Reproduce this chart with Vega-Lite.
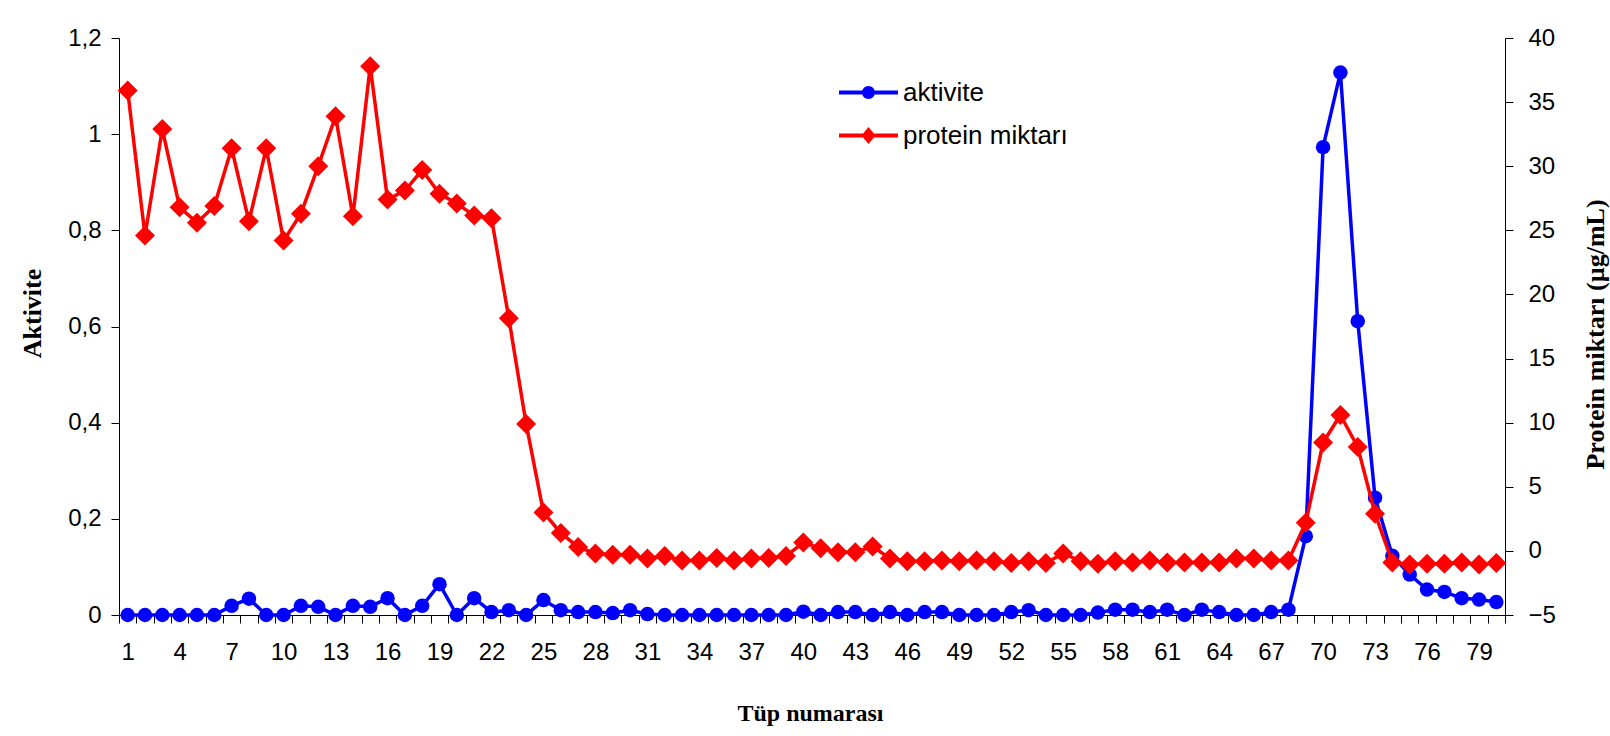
{
  "$schema": "https://vega.github.io/schema/vega-lite/v6.json",
  "autosize": {"type": "none"},
  "padding": {"left": 119, "top": 38, "right": 105, "bottom": 121},
  "width": 1386,
  "height": 577,
  "background": "white",
  "config": {
    "view": {"stroke": null},
    "font": "Liberation Sans",
    "axis": {
      "grid": false,
      "domainColor": "#000000",
      "tickColor": "#000000",
      "labelColor": "#000000",
      "titleColor": "#000000",
      "labelFont": "Liberation Sans",
      "labelFontSize": 24,
      "tickSize": 8,
      "titleFont": "Liberation Serif",
      "titleFontWeight": "bold",
      "titleFontSize": 26
    }
  },
  "data": {
    "values": [
      {"tup": 1, "act": 0, "prot": 35.9},
      {"tup": 2, "act": 0, "prot": 24.6},
      {"tup": 3, "act": 0, "prot": 32.9},
      {"tup": 4, "act": 0, "prot": 26.8},
      {"tup": 5, "act": 0, "prot": 25.6},
      {"tup": 6, "act": 0, "prot": 26.9},
      {"tup": 7, "act": 0.019, "prot": 31.4},
      {"tup": 8, "act": 0.034, "prot": 25.7},
      {"tup": 9, "act": 0, "prot": 31.4},
      {"tup": 10, "act": 0, "prot": 24.2},
      {"tup": 11, "act": 0.019, "prot": 26.3},
      {"tup": 12, "act": 0.017, "prot": 30.0},
      {"tup": 13, "act": 0, "prot": 33.9},
      {"tup": 14, "act": 0.019, "prot": 26.1},
      {"tup": 15, "act": 0.017, "prot": 37.8},
      {"tup": 16, "act": 0.035, "prot": 27.4},
      {"tup": 17, "act": 0, "prot": 28.1},
      {"tup": 18, "act": 0.019, "prot": 29.7},
      {"tup": 19, "act": 0.064, "prot": 27.85},
      {"tup": 20, "act": 0, "prot": 27.1},
      {"tup": 21, "act": 0.035, "prot": 26.15},
      {"tup": 22, "act": 0.006, "prot": 25.95},
      {"tup": 23, "act": 0.01, "prot": 18.15},
      {"tup": 24, "act": 0, "prot": 9.9},
      {"tup": 25, "act": 0.031, "prot": 3.0},
      {"tup": 26, "act": 0.01, "prot": 1.4},
      {"tup": 27, "act": 0.006, "prot": 0.3},
      {"tup": 28, "act": 0.006, "prot": -0.2},
      {"tup": 29, "act": 0.004, "prot": -0.3},
      {"tup": 30, "act": 0.01, "prot": -0.3},
      {"tup": 31, "act": 0.002, "prot": -0.6},
      {"tup": 32, "act": 0, "prot": -0.4},
      {"tup": 33, "act": 0, "prot": -0.75},
      {"tup": 34, "act": 0, "prot": -0.75},
      {"tup": 35, "act": 0, "prot": -0.55},
      {"tup": 36, "act": 0, "prot": -0.75},
      {"tup": 37, "act": 0, "prot": -0.6},
      {"tup": 38, "act": 0, "prot": -0.55},
      {"tup": 39, "act": 0, "prot": -0.4},
      {"tup": 40, "act": 0.007, "prot": 0.65},
      {"tup": 41, "act": 0, "prot": 0.2},
      {"tup": 42, "act": 0.006, "prot": -0.1},
      {"tup": 43, "act": 0.006, "prot": -0.1},
      {"tup": 44, "act": 0, "prot": 0.35},
      {"tup": 45, "act": 0.006, "prot": -0.6},
      {"tup": 46, "act": 0, "prot": -0.8},
      {"tup": 47, "act": 0.006, "prot": -0.8},
      {"tup": 48, "act": 0.006, "prot": -0.75},
      {"tup": 49, "act": 0, "prot": -0.8},
      {"tup": 50, "act": 0, "prot": -0.75},
      {"tup": 51, "act": 0, "prot": -0.8},
      {"tup": 52, "act": 0.006, "prot": -0.95},
      {"tup": 53, "act": 0.01, "prot": -0.8},
      {"tup": 54, "act": 0, "prot": -0.95},
      {"tup": 55, "act": 0, "prot": -0.2},
      {"tup": 56, "act": 0, "prot": -0.8},
      {"tup": 57, "act": 0.005, "prot": -1.0},
      {"tup": 58, "act": 0.011, "prot": -0.8},
      {"tup": 59, "act": 0.011, "prot": -0.9},
      {"tup": 60, "act": 0.006, "prot": -0.75},
      {"tup": 61, "act": 0.011, "prot": -0.9},
      {"tup": 62, "act": 0, "prot": -0.9},
      {"tup": 63, "act": 0.011, "prot": -0.9},
      {"tup": 64, "act": 0.006, "prot": -0.9},
      {"tup": 65, "act": 0, "prot": -0.6},
      {"tup": 66, "act": 0, "prot": -0.6},
      {"tup": 67, "act": 0.006, "prot": -0.75},
      {"tup": 68, "act": 0.011, "prot": -0.75},
      {"tup": 69, "act": 0.164, "prot": 2.2},
      {"tup": 70, "act": 0.973, "prot": 8.45},
      {"tup": 71, "act": 1.128, "prot": 10.6},
      {"tup": 72, "act": 0.611, "prot": 8.1},
      {"tup": 73, "act": 0.244, "prot": 2.9},
      {"tup": 74, "act": 0.123, "prot": -0.9},
      {"tup": 75, "act": 0.084, "prot": -1.07},
      {"tup": 76, "act": 0.053, "prot": -1.0},
      {"tup": 77, "act": 0.048, "prot": -1.0},
      {"tup": 78, "act": 0.035, "prot": -0.9},
      {"tup": 79, "act": 0.032, "prot": -1.07},
      {"tup": 80, "act": 0.027, "prot": -0.95}
    ]
  },
  "encoding": {
    "x": {
      "field": "tup",
      "type": "quantitative",
      "scale": {"domain": [0.5, 80.5], "nice": false, "zero": false},
      "axis": {
        "values": [0.5, 1.5, 2.5, 3.5, 4.5, 5.5, 6.5, 7.5, 8.5, 9.5, 10.5, 11.5, 12.5, 13.5, 14.5, 15.5, 16.5, 17.5, 18.5, 19.5, 20.5, 21.5, 22.5, 23.5, 24.5, 25.5, 26.5, 27.5, 28.5, 29.5, 30.5, 31.5, 32.5, 33.5, 34.5, 35.5, 36.5, 37.5, 38.5, 39.5, 40.5, 41.5, 42.5, 43.5, 44.5, 45.5, 46.5, 47.5, 48.5, 49.5, 50.5, 51.5, 52.5, 53.5, 54.5, 55.5, 56.5, 57.5, 58.5, 59.5, 60.5, 61.5, 62.5, 63.5, 64.5, 65.5, 66.5, 67.5, 68.5, 69.5, 70.5, 71.5, 72.5, 73.5, 74.5, 75.5, 76.5, 77.5, 78.5, 79.5, 80.5],
        "labelExpr": "(datum.value - 0.5) % 3 == 0 ? toString(datum.value + 0.5) : ''",
        "labelOffset": 8.66,
        "labelPadding": 17,
        "labelOverlap": false,
        "labelBound": false,
        "labelFlush": false,
        "title": "Tüp numarası",
        "titleFontSize": 24,
        "titleX": 691,
        "titleY": 98,
        "titleBaseline": "middle",
        "titleAlign": "center"
      }
    }
  },
  "layer": [
    {
      "encoding": {
        "y": {
          "field": "act",
          "type": "quantitative",
          "scale": {"domain": [0, 1.2], "nice": false},
          "axis": {
            "orient": "left",
            "title": "Aktivite",
            "values": [0, 0.2, 0.4, 0.6, 0.8, 1, 1.2],
            "labelExpr": "replace(format(datum.value, '~g'), '.', ',')",
            "labelPadding": 10,
            "titleAngle": 270,
            "titleX": -87,
            "titleY": 275,
            "titleBaseline": "middle",
            "titleAlign": "center"
          }
        },
        "color": {
          "datum": "aktivite",
          "scale": {"domain": ["aktivite", "protein miktarı"], "range": ["#0000FF", "#FF0000"]},
          "legend": {
            "orient": "none",
            "legendX": 720,
            "legendY": 25,
            "title": null,
            "padding": 0,
            "labelFont": "Liberation Sans",
            "labelFontSize": 26,
            "labelLimit": 400,
            "labelColor": "#000000",
            "symbolSize": 100,
            "labelOffset": 5,
            "rowPadding": 0,
            "encode": {
              "symbols": {
                "update": {
                  "shape": {"signal": "datum.value === 'aktivite' ? 'M-1,-0.068H1V0.068H-1Z M0.22,0A0.22,0.22,0,1,1,-0.22,0A0.22,0.22,0,1,1,0.22,0Z' : 'M-1,-0.068H1V0.068H-1Z M0,-0.29L0.24,0L0,0.29L-0.24,0Z'"},
                  "size": {"value": 3481},
                  "x": {"value": 29.5},
                  "fill": {"signal": "datum.value === 'aktivite' ? '#0000FF' : '#FF0000'"},
                  "fillOpacity": {"value": 1},
                  "opacity": {"value": 1},
                  "stroke": {"value": "transparent"},
                  "strokeWidth": {"value": 0}
                }
              }
            }
          }
        }
      },
      "layer": [
        {"mark": {"type": "line", "strokeWidth": 3.5}},
        {"mark": {"type": "point", "shape": "circle", "filled": true, "size": 210, "opacity": 1}}
      ]
    },
    {
      "encoding": {
        "y": {
          "field": "prot",
          "type": "quantitative",
          "scale": {"domain": [-5, 40], "nice": false, "zero": false},
          "axis": {
            "orient": "right",
            "title": "Protein miktarı (µg/mL)",
            "values": [-5, 0, 5, 10, 15, 20, 25, 30, 35, 40],
            "labelPadding": 15,
            "titleAngle": 270,
            "titleX": 90,
            "titleY": 296,
            "titleBaseline": "middle",
            "titleAlign": "center"
          }
        },
        "color": {"datum": "protein miktarı"}
      },
      "layer": [
        {"mark": {"type": "line", "strokeWidth": 3.5}},
        {"mark": {"type": "point", "shape": "diamond", "filled": true, "size": 400, "opacity": 1}}
      ]
    }
  ],
  "resolve": {"scale": {"y": "independent"}}
}
